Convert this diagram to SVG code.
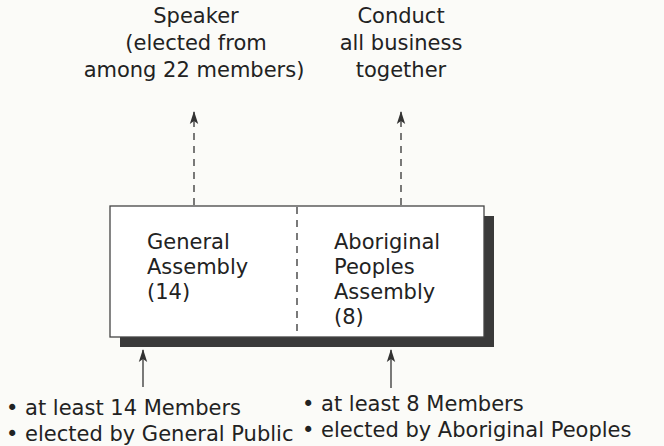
<svg xmlns="http://www.w3.org/2000/svg" width="664" height="446" viewBox="0 0 664 446">
<defs>
<style>
text{font-family:"DejaVu Sans","Liberation Sans",sans-serif;font-size:21px;fill:#222}
.c{text-anchor:middle}
.dash{stroke:#333;stroke-width:1.3;stroke-dasharray:7,6;fill:none}
.solid{stroke:#333;stroke-width:1.3;fill:none}
</style>
<marker id="ah" viewBox="0 0 14 10" refX="13" refY="5" markerWidth="14" markerHeight="10" markerUnits="userSpaceOnUse" orient="auto">
<path d="M14,5 L1,0.8 L4,5 L1,9.2 Z" fill="#333"/>
</marker>
</defs>
<rect width="664" height="446" fill="#fbfbf8"/>
<g id="top-labels">
<text class="c" x="196" y="23">Speaker</text>
<text class="c" x="196" y="50">(elected from</text>
<text class="c" x="194" y="77">among 22 members)</text>
<text class="c" x="401" y="23">Conduct</text>
<text class="c" x="401" y="50">all business</text>
<text class="c" x="401" y="77">together</text>
</g>
<g id="assembly">
<rect x="120" y="216" width="374" height="131" fill="#3a3a3a"/>
<rect x="110" y="206" width="374" height="131" fill="#fff" stroke="#444" stroke-width="1.3"/>
<line x1="297" y1="207" x2="297" y2="336" class="dash"/>
</g>
<g id="general-assembly">
<text x="147" y="249">General</text>
<text x="147" y="274">Assembly</text>
<text x="147" y="299">(14)</text>
</g>
<g id="aboriginal-assembly">
<text x="334" y="249">Aboriginal</text>
<text x="334" y="274">Peoples</text>
<text x="334" y="299">Assembly</text>
<text x="334" y="324">(8)</text>
</g>
<g id="connectors">
<path class="dash" d="M194,205 V112" marker-end="url(#ah)"/>
<path class="dash" d="M401,205 V112" marker-end="url(#ah)"/>
<path class="solid" d="M143,387 V350" marker-end="url(#ah)"/>
<path class="solid" d="M391,388 V350" marker-end="url(#ah)"/>
</g>
<g id="bottom-left">
<text x="6" y="415">• at least 14 Members</text>
<text x="6" y="441">• elected by General Public</text>
</g>
<g id="bottom-right">
<text x="302" y="411">• at least 8 Members</text>
<text x="302" y="437">• elected by Aboriginal Peoples</text>
</g>
</svg>
